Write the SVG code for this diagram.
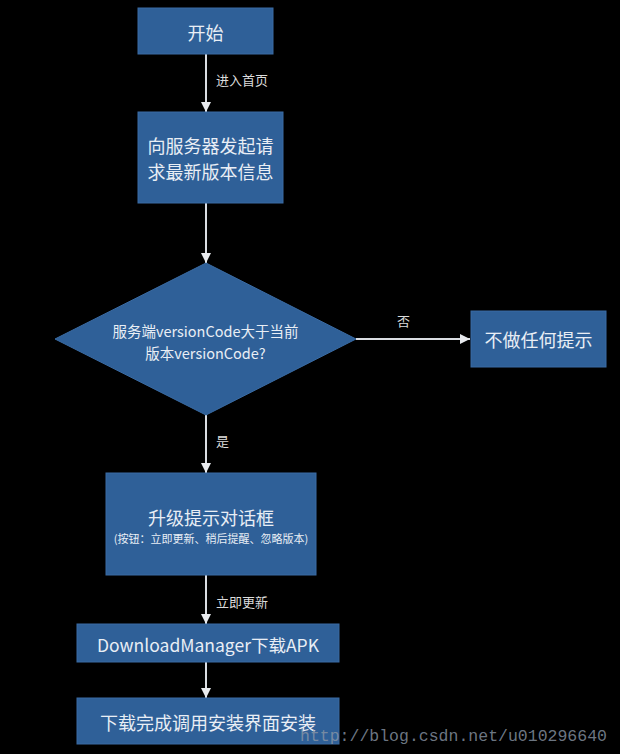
<svg xmlns="http://www.w3.org/2000/svg" width="620" height="754" viewBox="0 0 620 754">
<defs>
<marker id="ah" viewBox="0 0 10 10" refX="10" refY="5" markerWidth="10" markerHeight="10" markerUnits="userSpaceOnUse" orient="auto">
<path d="M0,0 L10,5 L0,10 Z" fill="#e8eaee"/>
</marker>
<style>
.box{fill:#2f6098;stroke:#3a6ba3;stroke-width:1}
.t{font-family:"Noto Sans CJK SC","Liberation Sans",sans-serif;fill:#e9eef5;text-anchor:middle;dominant-baseline:central}
.lbl{font-family:"Noto Sans CJK SC","Liberation Sans",sans-serif;fill:#dcdcdc;font-size:13px;dominant-baseline:central}
.c{stroke:#dadde2;stroke-width:2;fill:none;marker-end:url(#ah)}
</style>
</defs>
<rect width="620" height="754" fill="#000"/>
<g id="connectors">
<line class="c" x1="206" y1="54" x2="206" y2="112"/>
<line class="c" x1="206" y1="203" x2="206" y2="263"/>
<line class="c" x1="356" y1="339" x2="470" y2="339"/>
<line class="c" x1="206" y1="415" x2="206" y2="473"/>
<line class="c" x1="206" y1="575" x2="206" y2="624"/>
<line class="c" x1="206" y1="662" x2="206" y2="698"/>
<text class="lbl" x="216" y="79">进入首页</text>
<text class="lbl" x="397" y="320">否</text>
<text class="lbl" x="216" y="440">是</text>
<text class="lbl" x="216" y="601">立即更新</text>
</g>
<g id="start">
<rect class="box" x="138" y="8" width="135" height="46"/>
<text class="t" x="205.5" y="32" font-size="18">开始</text>
</g>
<g id="request">
<rect class="box" x="138" y="112" width="145" height="91"/>
<text class="t" x="210.5" y="145" font-size="18">向服务器发起请</text>
<text class="t" x="210.5" y="171" font-size="18">求最新版本信息</text>
</g>
<g id="decision">
<polygon class="box" points="206,263 356,339 206,415 55,339"/>
<text class="t" x="205.5" y="330" font-size="14.5">服务端versionCode大于当前</text>
<text class="t" x="205.5" y="352" font-size="14.5">版本versionCode?</text>
</g>
<g id="noop">
<rect class="box" x="471" y="311" width="135" height="56"/>
<text class="t" x="538.5" y="339" font-size="18">不做任何提示</text>
</g>
<g id="dialog">
<rect class="box" x="106" y="473" width="210" height="102"/>
<text class="t" x="211" y="517" font-size="18">升级提示对话框</text>
<text class="t" x="211" y="538" font-size="11">(按钮：立即更新、稍后提醒、忽略版本)</text>
</g>
<g id="download">
<rect class="box" x="77" y="624" width="262" height="38"/>
<text class="t" x="208" y="644" font-size="17.5">DownloadManager下载APK</text>
</g>
<g id="install">
<rect class="box" x="77" y="698" width="262" height="46"/>
<text class="t" x="208" y="722" font-size="18">下载完成调用安装界面安装</text>
</g>
<text x="300" y="741" font-family="Liberation Mono, monospace" font-size="16.5" fill="#8a96a6" fill-opacity="0.8">http://blog.csdn.net/u010296640</text>
</svg>
